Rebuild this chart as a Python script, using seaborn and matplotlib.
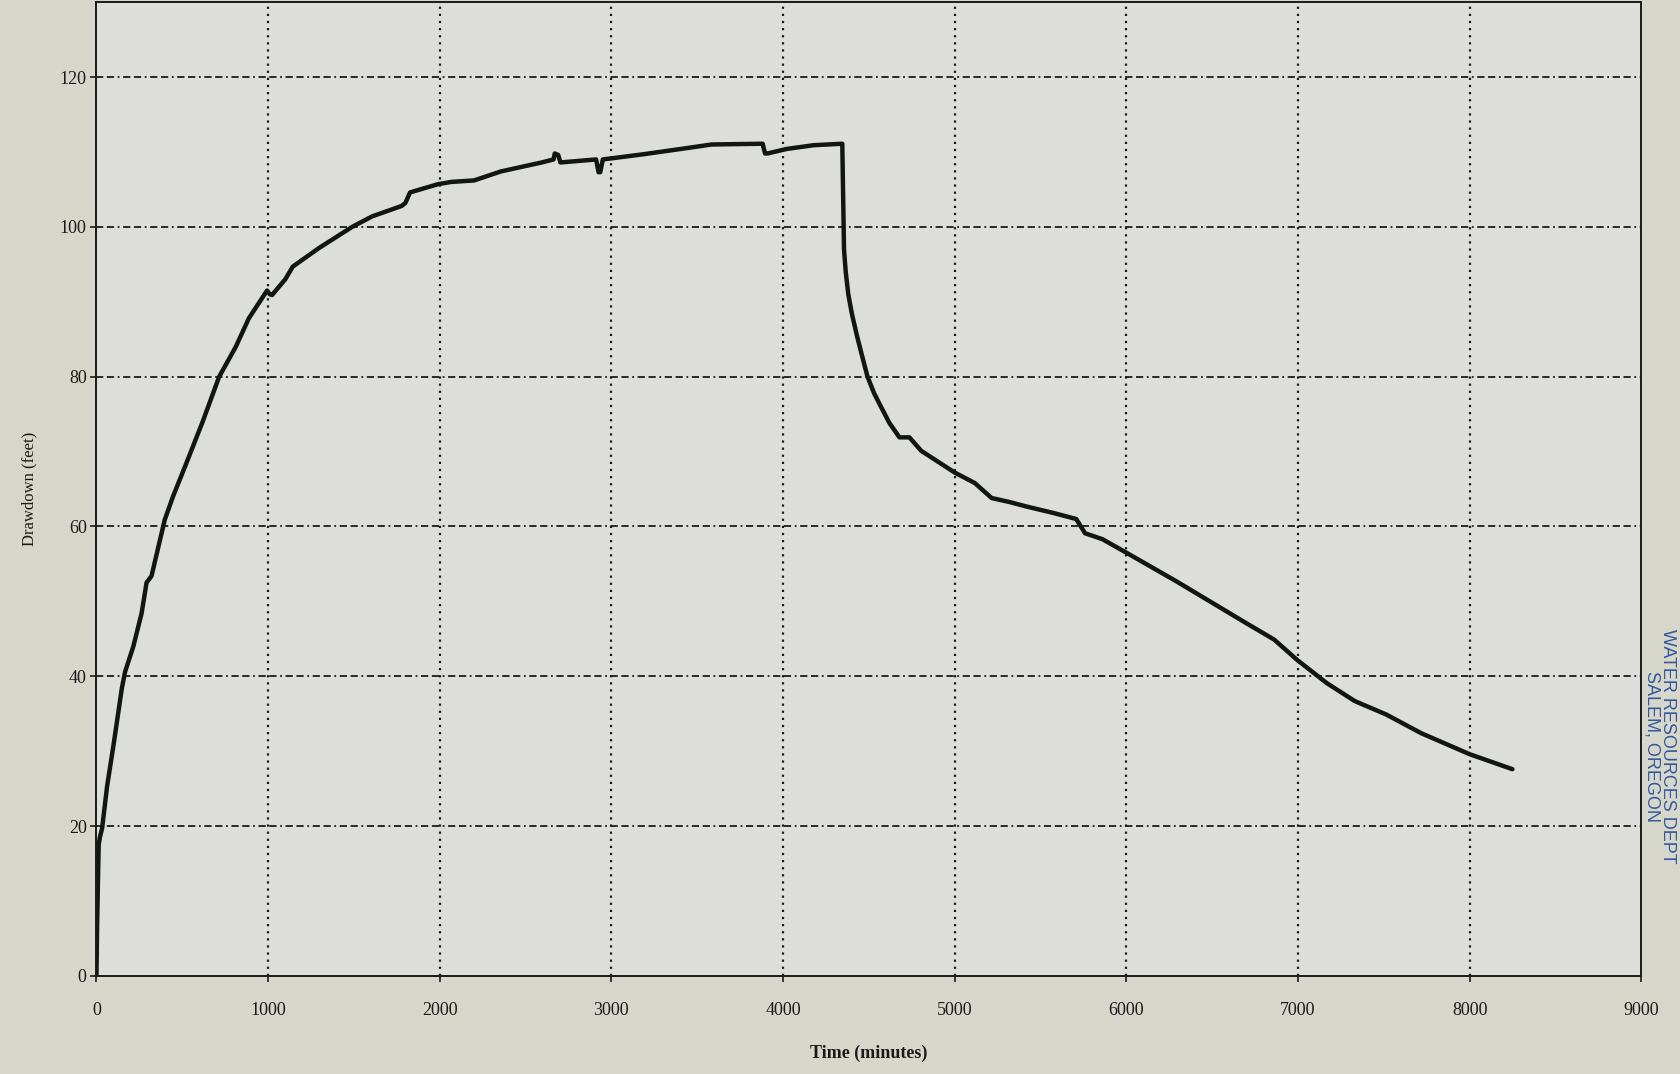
import numpy as np
import pandas as pd
import matplotlib
matplotlib.use("Agg")
import matplotlib.pyplot as plt
import seaborn as sns

# drawdown (time in minutes, drawdown in feet)
time_min = [0, 4, 10, 13, 20, 33, 62, 100, 148, 167, 215, 263, 292, 321, 360,
            398, 446, 523, 619, 715, 812, 888, 994, 1010, 1023, 1100, 1144,
            1298, 1490, 1606, 1779, 1800, 1827, 1990, 2067, 2200, 2356, 2594,
            2663, 2670, 2690, 2703, 2911, 2925, 2935, 2950, 3188, 3465, 3584,
            3881, 3895, 3910, 4020, 4178, 4345, 4355, 4365, 4380, 4400, 4430,
            4460, 4492, 4530, 4570, 4620, 4678, 4736, 4805, 5000, 5117, 5215,
            5313, 5430, 5576, 5708, 5759, 5861, 6000, 6290, 6698, 6861, 6994,
            7167, 7330, 7514, 7718, 8000, 8249]
drawdown_ft = [0, 6.9, 14, 17.5, 18.5, 19.7, 25.3, 30.9, 38.4, 40.6, 44, 48.4,
               52.5, 53.4, 57.2, 60.9, 64, 68.4, 74, 80, 84, 87.8, 91.5, 91.0,
               90.9, 93, 94.7, 97.2, 100, 101.4, 102.8, 103.2, 104.6, 105.7,
               106, 106.2, 107.4, 108.6, 109, 109.8, 109.6, 108.6, 109, 107.3,
               107.3, 109, 109.7, 110.6, 111, 111.1, 109.8, 109.8, 110.4, 110.9,
               111.1, 97, 94, 91, 88.5, 85.5, 82.8, 80, 77.8, 76, 73.8, 71.9,
               71.9, 70.1, 67.2, 65.8, 63.8, 63.3, 62.6, 61.8, 61, 59.1, 58.3,
               56.5, 52.7, 47.1, 44.9, 42.2, 39.1, 36.7, 34.9, 32.4, 29.6, 27.6]

x_ticks = list(range(0, 9001, 1000))
y_ticks = list(range(0, 121, 20))

df = pd.DataFrame({"Time (minutes)": time_min, "Drawdown (feet)": drawdown_ft})

sns.set_style("ticks")
plt.rcParams["font.family"] = ["Liberation Serif", "DejaVu Serif"]

fig = plt.figure(figsize=(16.8, 10.74), dpi=100, facecolor="#d7d6cb")
ax = fig.add_axes([0.0574, 0.0913, 0.9196, 0.9067])
ax.set_facecolor("#dddeda")

sns.lineplot(data=df, x="Time (minutes)", y="Drawdown (feet)", ax=ax,
             color="#111611", linewidth=3.2, sort=False, estimator=None)

ax.set_xlim(0, 9000)
ax.set_ylim(0, 130)
ax.set_xticks(x_ticks)
ax.set_yticks(y_ticks)

# scanned-look grid: dotted verticals, dash-dot horizontals
for xv in x_ticks[1:-1]:
    ax.axvline(xv, color="#1a1a1a", linestyle=(0, (1, 2.2)), linewidth=1.6, zorder=0)
for yv in y_ticks[1:]:
    ax.axhline(yv, color="#1a1a1a", linestyle=(0, (4, 2, 4, 2, 1, 2)), linewidth=1.3, zorder=0)

for side in ["left", "bottom", "right", "top"]:
    ax.spines[side].set_color("#1a1a1a")
    ax.spines[side].set_linewidth(1.4)

ax.tick_params(axis="x", direction="out", length=4, width=1.2, pad=15,
               labelsize=13, colors="#1a1a1a")
ax.tick_params(axis="y", direction="out", length=4, width=1.2, pad=3,
               labelsize=13, colors="#1a1a1a")

ax.set_xlabel("Time (minutes)", fontsize=13, fontweight="bold", labelpad=18,
              color="#1a1a1a")
ax.set_ylabel("Drawdown (feet)", fontsize=12, labelpad=16, color="#1a1a1a")

# receiving stamp at the right edge
fig.text(0.988, 0.305, "WATER RESOURCES DEPT\nSALEM, OREGON", rotation=-90,
         ha="center", va="center", fontsize=13, color="#33589c",
         family=["Liberation Sans", "DejaVu Sans"], linespacing=0.85,
         multialignment="center")

fig.savefig("out.png", dpi=100, facecolor=fig.get_facecolor())
